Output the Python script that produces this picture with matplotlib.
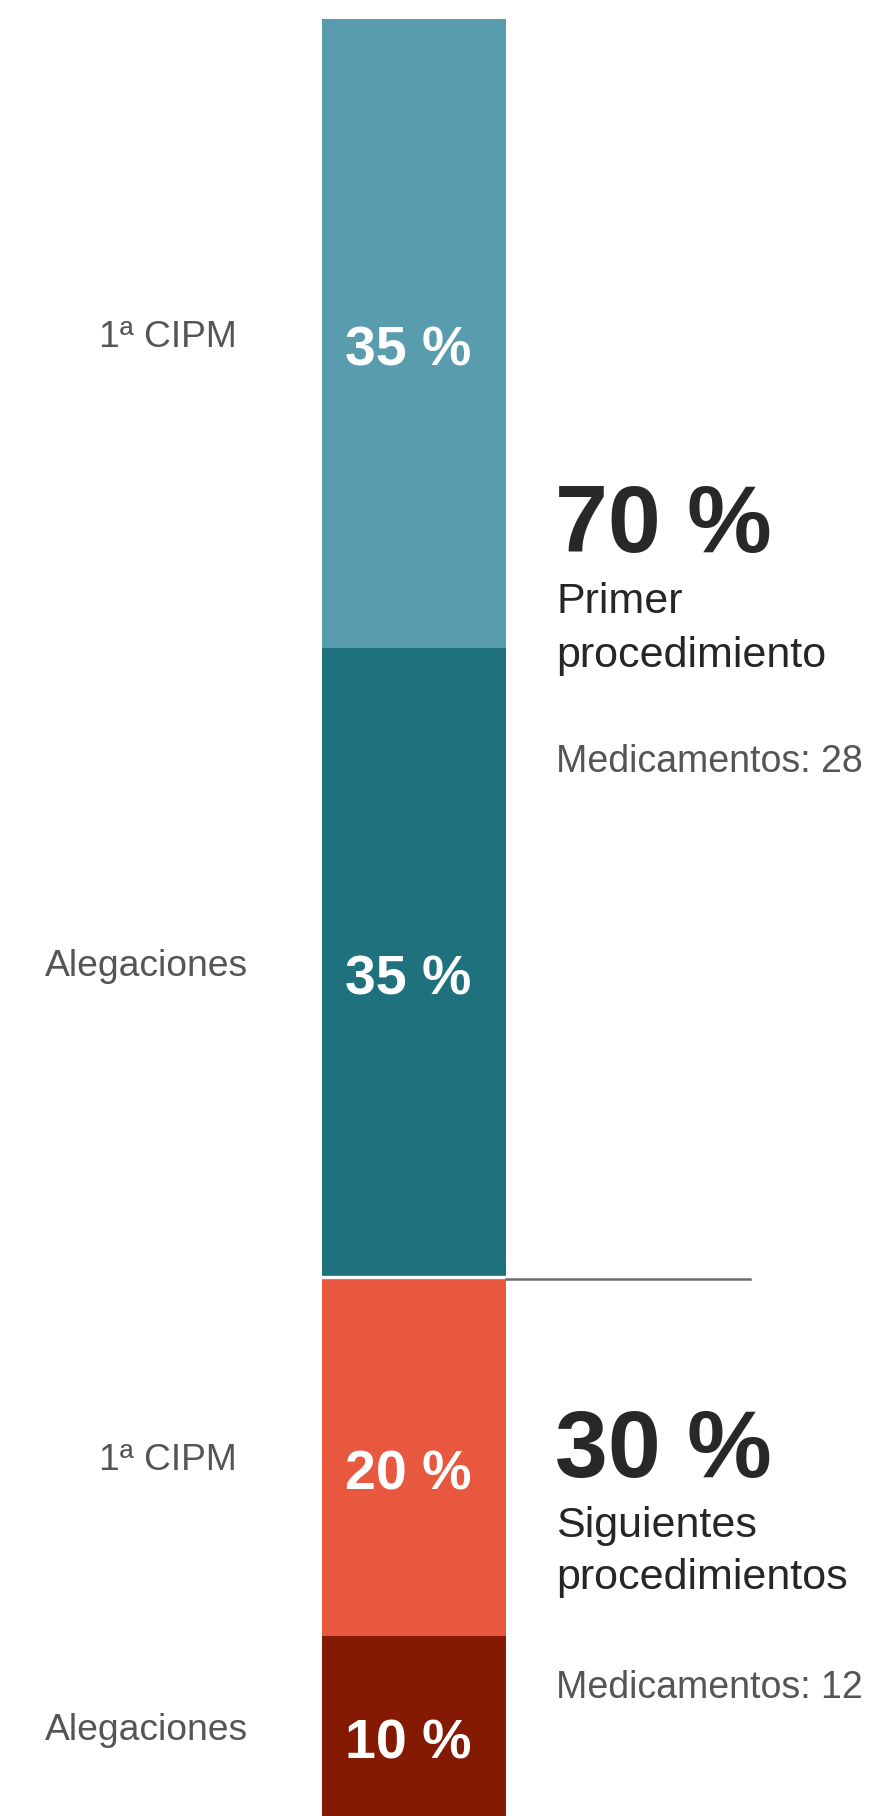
import matplotlib
matplotlib.use("Agg")
import matplotlib.pyplot as plt
from matplotlib.transforms import ScaledTranslation, blended_transform_factory

# --- data -------------------------------------------------------------
stage_labels = ["1ª CIPM", "Alegaciones", "1ª CIPM", "Alegaciones"]
shares = [35, 35, 20, 10]
seg_colors = ["#589cad", "#1f717e", "#e8583e", "#841a02"]

group_shares = [70, 30]
group_names = [["Primer", "procedimiento"], ["Siguientes", "procedimientos"]]
group_drugs = [28, 12]

# --- figure -----------------------------------------------------------
W, H, DPI = 877, 1816, 100
fig = plt.figure(figsize=(W / DPI, H / DPI), dpi=DPI, facecolor="white")

num_family = ["Liberation Sans", "DejaVu Sans"]
txt_family = ["Liberation Sans", "DejaVu Sans"]
big_size, inbar_size = 68.5, 40


def fig_xy(x_px, y_px):
    return x_px / W, 1 - y_px / H


def px_shift(dy_px):
    # positive dy moves text down on the page
    return ScaledTranslation(0, -dy_px / DPI, fig.dpi_scale_trans)


bar_left, bar_right, bar_top = 322, 506, 18.5
ax = fig.add_axes([bar_left / W, 0, (bar_right - bar_left) / W, (H - bar_top) / H])
ax.set_xlim(-0.5, 0.5)
ax.set_ylim(100, 0)
ax.axis("off")

bottoms = [sum(shares[:i]) for i in range(len(shares))]
ax.bar([0] * len(shares), shares, bottom=bottoms, width=1.0,
       color=seg_colors, linewidth=0)

# separator between the two groups
split = group_shares[0]
ax.axhline(split, color="white", linewidth=2.4, zorder=3)
ybl = blended_transform_factory(fig.transFigure, ax.transData)
ax.plot([bar_right / W, 750 / W], [split, split], color="#6b6b6b",
        linewidth=1.8, transform=ybl + px_shift(2), clip_on=False, zorder=3)

# labels inside and left of each segment
axy = blended_transform_factory(ax.transAxes, ax.transData)
figy = blended_transform_factory(fig.transFigure, ax.transData)
label_right_px = [237, 248, 237, 248]
for lab, v, b, xr in zip(stage_labels, shares, bottoms, label_right_px):
    mid = b + v / 2
    ax.text(23 / (bar_right - bar_left), mid, f"{v} %", color="white",
            fontsize=inbar_size, fontweight="bold", family=num_family,
            ha="left", va="baseline", transform=axy + px_shift(32.5))
    ax.text(xr / W, mid, lab, color="#555555", fontsize=26.8,
            family=txt_family, ha="right", va="baseline",
            transform=figy + px_shift(14))

# group summaries on the right
x0 = 557
baselines = [(552, 613, 667, 772), (1477, 1537, 1589, 1698)]
for share, names, drugs, (yb, y1, y2, y3) in zip(group_shares, group_names,
                                                group_drugs, baselines):
    fig.text(*fig_xy(x0 - 2, yb), f"{share} %", color="#282828",
             fontsize=big_size, fontweight="bold", family=num_family,
             ha="left", va="baseline")
    fig.text(*fig_xy(x0 - 1, y1), names[0], color="#262626", fontsize=31,
             family=txt_family, ha="left", va="baseline")
    fig.text(*fig_xy(x0 - 1, y2), names[1], color="#262626", fontsize=31,
             family=txt_family, ha="left", va="baseline")
    fig.text(*fig_xy(x0 - 1, y3), f"Medicamentos: {drugs}", color="#555555",
             fontsize=27, family=txt_family, ha="left", va="baseline")

fig.savefig("out.png", dpi=DPI, facecolor="white")
